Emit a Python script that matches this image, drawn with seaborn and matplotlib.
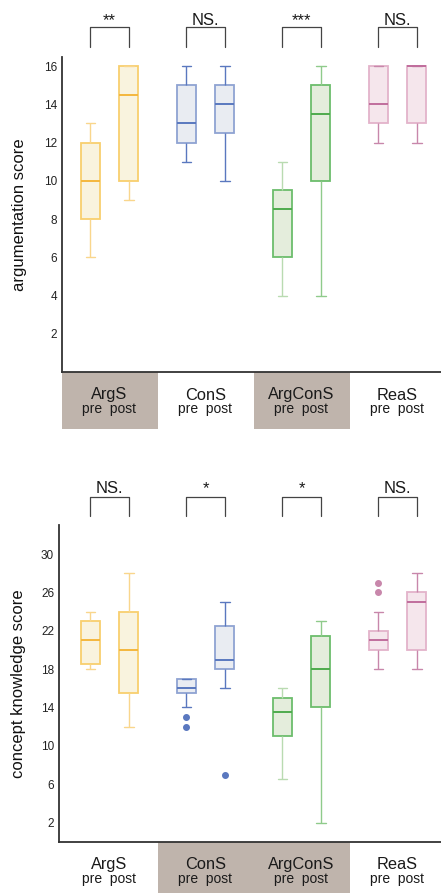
import matplotlib
matplotlib.use("Agg")
import matplotlib.pyplot as plt
import matplotlib.transforms as mtransforms
from matplotlib.patches import Rectangle
import seaborn as sns
import pandas as pd

sns.set_theme(style="white")
plt.rcParams["font.family"] = ["Liberation Sans", "DejaVu Sans"]

# ---------------- data ----------------
groups = ["ArgS", "ConS", "ArgConS", "ReaS"]
times = ["pre", "post"]

# argumentation score
arg_args_pre = [6, 8, 10, 12, 13]
arg_args_post = [9, 10, 14.5, 16, 16]
arg_cons_pre = [11, 12, 13, 15, 16]
arg_cons_post = [10, 12.5, 14, 15, 16]
arg_argcons_pre = [4, 6, 8.5, 9.5, 11]
arg_argcons_post = [4, 10, 13.5, 15, 16]
arg_reas_pre = [12, 13, 14, 16, 16]
arg_reas_post = [12, 13, 16, 16, 16]

# concept knowledge score
con_args_pre = [18, 18.5, 21, 23, 24]
con_args_post = [12, 15.5, 20, 24, 28]
con_cons_pre = [12, 13, 14, 15.5, 15.5, 16, 16, 16, 17, 17, 17, 17, 17]
con_cons_post = [7, 16, 18, 18.5, 19, 21, 22.5, 24, 25]
con_argcons_pre = [6.5, 11, 13.5, 15, 16]
con_argcons_post = [2, 14, 18, 21.5, 23]
con_reas_pre = [18, 19, 20, 20, 20.5, 21, 21, 21.5, 22, 22, 24, 26, 27]
con_reas_post = [18, 20, 25, 26, 28]

arg_sig = ["**", "NS.", "***", "NS."]
con_sig = ["NS.", "*", "*", "NS."]

arg_yticks = [2, 4, 6, 8, 10, 12, 14, 16]
con_yticks = [2, 6, 10, 14, 18, 22, 26, 30]

arg_shaded = ["ArgS", "ArgConS"]
con_shaded = ["ConS", "ArgConS"]


def long_frame(lists):
    rows = []
    for (g, t), vals in lists.items():
        for v in vals:
            rows.append({"group": g, "time": t, "score": v})
    return pd.DataFrame(rows)


arg_df = long_frame({
    ("ArgS", "pre"): arg_args_pre, ("ArgS", "post"): arg_args_post,
    ("ConS", "pre"): arg_cons_pre, ("ConS", "post"): arg_cons_post,
    ("ArgConS", "pre"): arg_argcons_pre, ("ArgConS", "post"): arg_argcons_post,
    ("ReaS", "pre"): arg_reas_pre, ("ReaS", "post"): arg_reas_post,
})
con_df = long_frame({
    ("ArgS", "pre"): con_args_pre, ("ArgS", "post"): con_args_post,
    ("ConS", "pre"): con_cons_pre, ("ConS", "post"): con_cons_post,
    ("ArgConS", "pre"): con_argcons_pre, ("ArgConS", "post"): con_argcons_post,
    ("ReaS", "pre"): con_reas_pre, ("ReaS", "post"): con_reas_post,
})

# ---------------- styles ----------------
fills = {"ArgS": "#fdf6d9", "ConS": "#e7ebf4", "ArgConS": "#e4f0d9", "ReaS": "#f8e3ec"}
edges = {"ArgS": "#f8cf6e", "ConS": "#8fa3d2", "ArgConS": "#6cbd6c", "ReaS": "#e3b3ca"}
medians = {"ArgS": "#f4b73d", "ConS": "#5a78bf", "ArgConS": "#4eab4e", "ReaS": "#c06d9c"}
whisk = {
    ("ArgS", "pre"): "#f9d68c", ("ArgS", "post"): "#f9d68c",
    ("ConS", "pre"): "#5a78bf", ("ConS", "post"): "#5a78bf",
    ("ArgConS", "pre"): "#b9dbb1", ("ArgConS", "post"): "#8fcb8b",
    ("ReaS", "pre"): "#c887ab", ("ReaS", "post"): "#c887ab",
}
shade = "#bfb4ac"
spine_c = "#333333"

W, H = 441, 893
fig = plt.figure(figsize=(W / 100, H / 100), dpi=100)


def make_axes(L, B, T):
    return fig.add_axes([L / W, (H - B) / H, (W - L) / W, (B - T) / H])


def draw_panel(ax, df, ylim, yticks, ylabel, sig, shaded, L, B, T,
               label_x, band_px, y_bt, y_leg, y_txt):
    for g in groups:
        for t in times:
            sub = df[(df["group"] == g) & (df["time"] == t)]
            wc = whisk[(g, t)]
            sns.boxplot(
                data=sub, x="group", y="score", hue="time",
                order=groups, hue_order=times, dodge=True,
                width=0.8, gap=0.5, whis=1.65,
                palette={"pre": fills[g], "post": fills[g]},
                linecolor=edges[g], linewidth=1.2,
                boxprops=dict(edgecolor=edges[g], linewidth=1.3),
                whiskerprops=dict(color=wc, linewidth=1.0),
                capprops=dict(color=wc, linewidth=1.0),
                medianprops=dict(color=medians[g], linewidth=1.4),
                flierprops=dict(marker="o", markerfacecolor=wc,
                                markeredgecolor=wc, markersize=4),
                legend=False, ax=ax,
            )
    ax.set_xlim((L - 109.5) / 96, (W - 109.5) / 96)
    ax.set_ylim(*ylim)
    ax.set_yticks(yticks)
    ax.set_yticklabels([str(v) for v in yticks])
    ax.set_xticks([])
    ax.set_xlabel("")
    ax.set_ylabel(ylabel, fontsize=12, color="#111111")
    ax.yaxis.set_label_coords(label_x, 0.5)
    ax.tick_params(axis="y", length=0, pad=3.5, labelsize=8.5, labelcolor="#222222")
    for s in ["top", "right"]:
        ax.spines[s].set_visible(False)
    for s in ["left", "bottom"]:
        ax.spines[s].set_color(spine_c)
        ax.spines[s].set_linewidth(1.3)
    ax.grid(False)

    hpx = B - T
    tr = mtransforms.blended_transform_factory(ax.transData, ax.transAxes)
    for i, g in enumerate(groups):
        if g in shaded:
            ax.add_patch(Rectangle((i - 0.5, -band_px / hpx), 1, band_px / hpx,
                                   transform=tr, clip_on=False,
                                   facecolor=shade, edgecolor="none", zorder=0))
        ax.text(i, -27.5 / hpx, g, transform=tr, ha="center", va="baseline",
                fontsize=11.8, color="#1a1a1a")
        ax.text(i, -41.5 / hpx, "pre  post", transform=tr, ha="center",
                va="baseline", fontsize=10, color="#1a1a1a")
        yb = (B - y_bt) / hpx
        yl = (B - y_leg) / hpx
        ax.plot([i - 0.2, i - 0.2, i + 0.2, i + 0.2], [yl, yb, yb, yl],
                transform=tr, clip_on=False, color="#444444", linewidth=0.9)
        ax.text(i, (B - y_txt) / hpx, sig[i], transform=tr, ha="center",
                va="baseline", fontsize=12, color="#1a1a1a")


ax1 = make_axes(62, 372, 56.5)
draw_panel(ax1, arg_df, (0, 16.5), arg_yticks, "argumentation score", arg_sig,
           arg_shaded, 62, 372, 56.5, label_x=(27 - 62) / (W - 62),
           band_px=57, y_bt=27, y_leg=47, y_txt=25)

ax2 = make_axes(59, 841.7, 525.3)
draw_panel(ax2, con_df, (0, 33), con_yticks, "concept knowledge score", con_sig,
           con_shaded, 59, 841.7, 525.3, label_x=(26 - 59) / (W - 59),
           band_px=52, y_bt=496.7, y_leg=515.7, y_txt=493.3)

fig.savefig("out.png", dpi=100)
